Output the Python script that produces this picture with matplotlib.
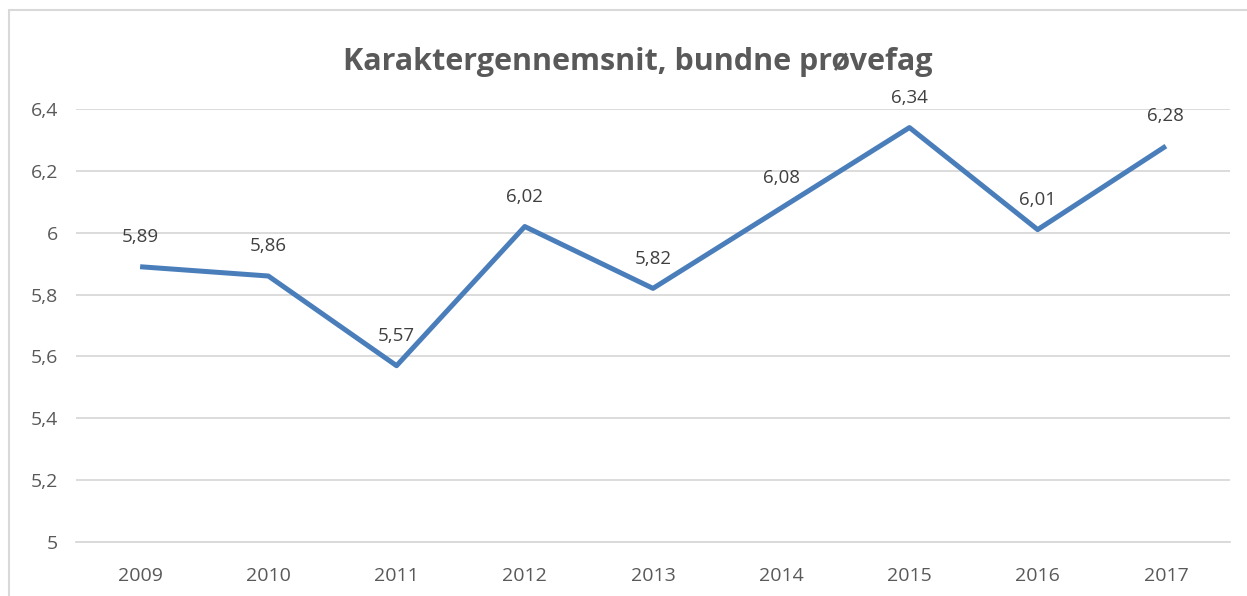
import matplotlib.pyplot as plt
from matplotlib.patches import Rectangle

# Data
aar = ['2009', '2010', '2011', '2012', '2013', '2014', '2015', '2016', '2017']
snit = [5.89, 5.86, 5.57, 6.02, 5.82, 6.08, 6.34, 6.01, 6.28]
yticks = [5, 5.2, 5.4, 5.6, 5.8, 6, 6.2, 6.4]
ylabels = ['5', '5,2', '5,4', '5,6', '5,8', '6', '6,2', '6,4']

plt.rcParams['font.family'] = ['Open Sans', 'DejaVu Sans']

fig = plt.figure(figsize=(12.47, 5.96), dpi=100)
W, H = 1247, 596

# Frame around the chart (cut at right/bottom edges)
fig.patches.append(Rectangle((9 / W, -0.1), 1.2, (596 - 10) / H + 0.1,
                             transform=fig.transFigure, fill=False,
                             edgecolor='#d9d9d9', lw=1.5))

ax = fig.add_axes([76 / W, 1 - 542 / H, (1230 - 76) / W, (542 - 109) / H])
x = range(len(aar))
ax.plot(x, snit, color='#4a7ebb', lw=3.6, solid_joinstyle='round',
        solid_capstyle='butt', zorder=3)

for i, v in zip(x, snit):
    ax.annotate(f'{v:.2f}'.replace('.', ','), (i, v), xytext=(0, 15),
                textcoords='offset points', ha='center', va='bottom',
                fontsize=13.5, color='#404040')

ax.set_xlim(-0.5, len(aar) - 0.5)
ax.set_ylim(5, 6.4)
ax.set_yticks(yticks)
ax.set_yticklabels(ylabels)
ax.set_xticks(list(x))
ax.set_xticklabels(aar)
ax.grid(axis='y', color='#d9d9d9', lw=1.3)
ax.set_axisbelow(True)
for s in ['top', 'right', 'left']:
    ax.spines[s].set_visible(False)
ax.spines['bottom'].set_color('#d9d9d9')
ax.spines['bottom'].set_linewidth(1.3)
ax.tick_params(length=0, labelsize=14, labelcolor='#595959')
ax.tick_params(axis='y', pad=13)
ax.tick_params(axis='x', pad=18)

fig.text(638 / W, 1 - 62 / H, 'Karaktergennemsnit, bundne prøvefag',
         ha='center', va='center', fontsize=22, fontweight='bold',
         color='#595959')

fig.savefig('out.png', dpi=100)
